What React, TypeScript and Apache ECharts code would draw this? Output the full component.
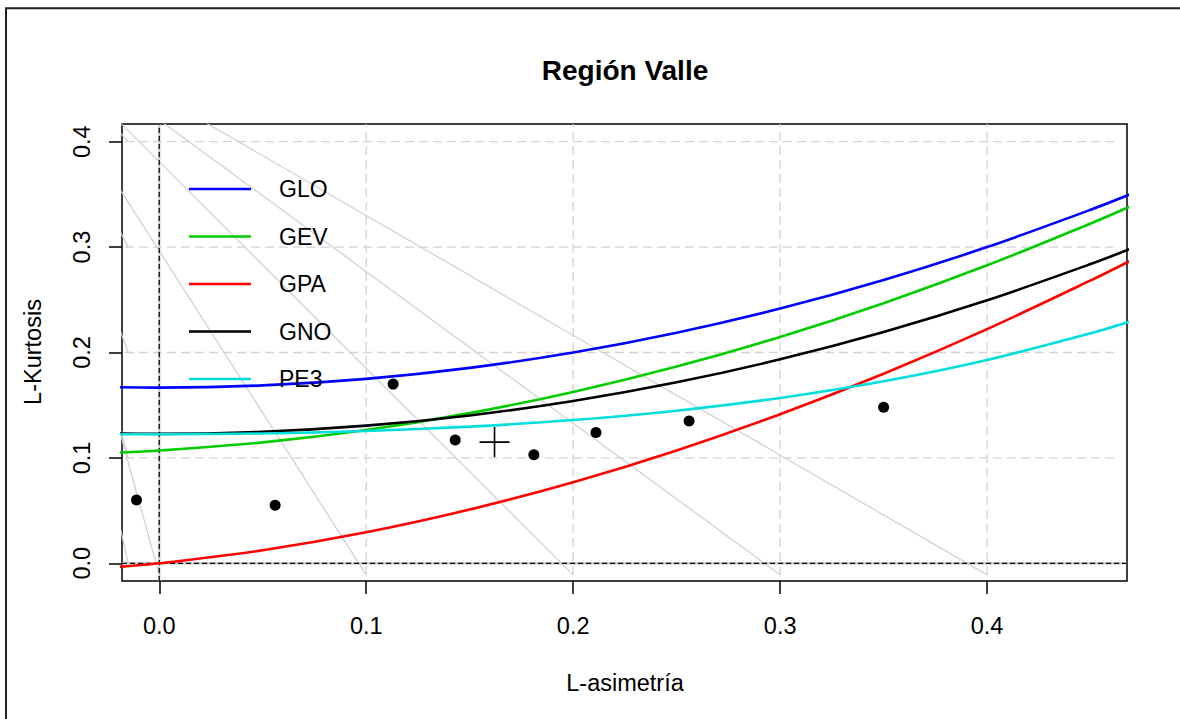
import React, { useEffect, useRef } from "react";
import * as echarts from "echarts";

// ---- data ----
const tickValues = [0, 0.1, 0.2, 0.3, 0.4];
const tau3 = [-0.02, 0, 0.05, 0.1, 0.15, 0.2, 0.25, 0.3, 0.35, 0.4, 0.45, 0.47];
const gloT4 = [0.167, 0.1667, 0.1688, 0.175, 0.1854, 0.2, 0.2188, 0.2417, 0.2688, 0.3, 0.3354, 0.3508];
const gevT4 = [0.1051, 0.107, 0.1147, 0.1265, 0.1425, 0.1626, 0.1867, 0.2148, 0.2468, 0.2827, 0.3224, 0.3393];
const gpaT4 = [-0.0036, 0, 0.0124, 0.0294, 0.051, 0.0769, 0.1071, 0.1415, 0.1799, 0.2222, 0.2684, 0.2878];
const gnoT4 = [0.1231, 0.1228, 0.1248, 0.1306, 0.1403, 0.154, 0.1717, 0.1935, 0.2194, 0.2495, 0.2839, 0.2989];
const pe3T4 = [0.1225, 0.1224, 0.1232, 0.1255, 0.1297, 0.1359, 0.1448, 0.1569, 0.1727, 0.1929, 0.2182, 0.2299];
const curveNames = ["GLO", "GEV", "GPA", "GNO", "PE3"];
const curveValues = [gloT4, gevT4, gpaT4, gnoT4, pe3T4];

const siteT3 = [-0.011, 0.056, 0.113, 0.143, 0.181, 0.211, 0.256, 0.35];
const siteT4 = [0.06, 0.055, 0.17, 0.117, 0.103, 0.124, 0.135, 0.148];
const meanT3 = [0.162];
const meanT4 = [0.115];

// reference (gray) lines: from a common far point to grid ends
const refApex = [-0.076, 0.53];
const refBottomX = [0, 0.1, 0.2, 0.3, 0.4];
const refBottomY = -0.011;
const refLeftY = [0, 0.1, 0.2, 0.3, 0.4];
const refLeftX = -0.015;

const gridV = [0.1, 0.2, 0.3, 0.4];
const gridH = [0.1, 0.2, 0.3, 0.4];

const xMin = -0.018;
const xMax = 0.4676;
const yMin = -0.0168;
const yMax = 0.4168;

const curveColors = ["#0000ff", "#00cd00", "#ff0000", "#000000", "#00dddd"];
const FONT = "'Liberation Sans', Arial, Helvetica, sans-serif";

export default function App() {
  const ref = useRef<HTMLDivElement>(null);
  useEffect(() => {
    if (!ref.current) return;
    const chart = echarts.init(ref.current, undefined, { renderer: "svg" });
    const series: any[] = [];

    // dashed grid
    gridV.forEach((x) => {
      series.push({
        type: "line", silent: true, symbol: "none", clip: true,
        data: [[x, -0.011], [x, yMax]],
        lineStyle: { color: "#d3d3d3", width: 1.3, type: [9, 5] }, z: 1,
      });
    });
    gridH.forEach((y) => {
      series.push({
        type: "line", silent: true, symbol: "none", clip: true,
        data: [[-0.0166, y], [0.4634, y]],
        lineStyle: { color: "#d3d3d3", width: 1.3, type: [9, 5] }, z: 1,
      });
    });
    // gray reference lines
    refBottomX.forEach((x) => {
      series.push({
        type: "line", silent: true, symbol: "none", clip: true,
        data: [refApex, [x, refBottomY]],
        lineStyle: { color: "#cfcfcf", width: 1.2 }, z: 2,
      });
    });
    refLeftY.forEach((y) => {
      series.push({
        type: "line", silent: true, symbol: "none", clip: true,
        data: [refApex, [refLeftX, y]],
        lineStyle: { color: "#cfcfcf", width: 1.2 }, z: 2,
      });
    });
    // zero lines: gray solid + black dashed
    series.push({
      type: "line", silent: true, symbol: "none", clip: true,
      data: [[0, yMin], [0, yMax]], lineStyle: { color: "#cccccc", width: 2.5 }, z: 3,
    });
    series.push({
      type: "line", silent: true, symbol: "none", clip: true,
      data: [[xMin, 0], [xMax, 0]], lineStyle: { color: "#cccccc", width: 2.5 }, z: 3,
    });
    series.push({
      type: "line", silent: true, symbol: "none", clip: true,
      data: [[0, yMin], [0, yMax]], lineStyle: { color: "#000", width: 1.2, type: [5, 3] }, z: 4,
    });
    series.push({
      type: "line", silent: true, symbol: "none", clip: true,
      data: [[xMin, 0], [xMax, 0]], lineStyle: { color: "#000", width: 1.2, type: [5, 3] }, z: 4,
    });
    // theoretical curves
    curveNames.forEach((name, i) => {
      series.push({
        type: "line", name, silent: true, symbol: "none", clip: true, smooth: 0.3,
        data: tau3.map((t, j) => [t, curveValues[i][j]]),
        lineStyle: { color: curveColors[i], width: 2.6 }, z: 5 + i,
      });
    });
    // sites
    series.push({
      type: "scatter", silent: true, symbol: "circle", symbolSize: 11,
      data: siteT3.map((t, j) => [t, siteT4[j]]),
      itemStyle: { color: "#000", opacity: 1 }, z: 20,
    });
    // regional mean
    series.push({
      type: "scatter", silent: true,
      symbol: "path://M0 50 L100 50 M50 0 L50 100", symbolSize: 30,
      data: meanT3.map((t, j) => [t, meanT4[j]]),
      itemStyle: { color: "none", borderColor: "#000", borderWidth: 1.6, opacity: 1 }, z: 21,
    });

    const legendGraphics: any[] = [];
    curveNames.forEach((name, i) => {
      const y = 189 + 47.5 * i;
      legendGraphics.push({
        type: "line", shape: { x1: 189, y1: y, x2: 251, y2: y },
        style: { stroke: curveColors[i], lineWidth: 2.6 }, z: 50,
      });
      legendGraphics.push({
        type: "text", x: 279, y,
        style: { text: name, font: `23px ${FONT}`, fill: "#000", textVerticalAlign: "middle" }, z: 50,
      });
    });

    chart.setOption({
      animation: false,
      grid: { left: 122, top: 124, right: 53, bottom: 138, show: true, borderColor: "#000", borderWidth: 1.5, backgroundColor: "transparent" },
      xAxis: {
        type: "value", min: xMin, max: xMax,
        axisLine: { show: false, onZero: false },
        splitLine: { show: false },
        axisTick: { show: true, customValues: tickValues, length: 13, lineStyle: { color: "#000", width: 1.5 } },
        axisLabel: { customValues: tickValues, formatter: (v: number) => v.toFixed(1), color: "#000", fontSize: 23.5, fontFamily: FONT, margin: 33 },
      },
      yAxis: {
        type: "value", min: yMin, max: yMax,
        axisLine: { show: false, onZero: false },
        splitLine: { show: false },
        axisTick: { show: true, customValues: tickValues, length: 13, lineStyle: { color: "#000", width: 1.5 } },
        axisLabel: { customValues: tickValues, formatter: (v: number) => v.toFixed(1), color: "#000", fontSize: 23.5, fontFamily: FONT, rotate: 90, margin: 28 },
      },
      series,
      graphic: [
        { type: "rect", shape: { x: 6, y: 8.3, width: 1300, height: 900 }, style: { fill: "none", stroke: "#222", lineWidth: 2 }, z: 100 },
        { type: "text", x: 625, y: 70, style: { text: "Región Valle", font: `bold 28px ${FONT}`, fill: "#000", textAlign: "center", textVerticalAlign: "middle" }, z: 50 },
        { type: "text", x: 625, y: 683, style: { text: "L-asimetría", font: `23.5px ${FONT}`, fill: "#000", textAlign: "center", textVerticalAlign: "middle" }, z: 50 },
        { type: "text", x: 33, y: 352, rotation: Math.PI / 2, style: { text: "L-Kurtosis", font: `23.5px ${FONT}`, fill: "#000", textAlign: "center", textVerticalAlign: "middle" }, z: 50 },
        ...legendGraphics,
      ],
    });
    return () => chart.dispose();
  }, []);
  return <div ref={ref} style={{ position: "fixed", left: 0, top: 0, width: 1180, height: 719, background: "#fff" }} />;
}
